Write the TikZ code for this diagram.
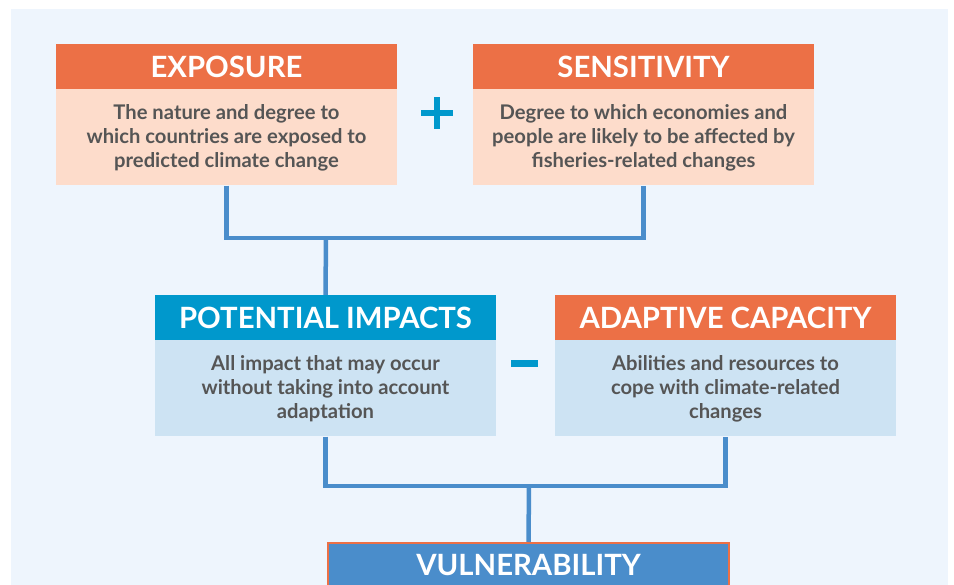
\documentclass[tikz,border=0pt]{standalone}
\usepackage{fontspec}
\setmainfont{Lato}
\usetikzlibrary{calc}
\newcommand\nolig{\kern0pt}
\definecolor{bgblue}{HTML}{EEF5FD}
\definecolor{hdorange}{HTML}{EC7046}
\definecolor{bdpeach}{HTML}{FDDCCB}
\definecolor{hdblue}{HTML}{0098CC}
\definecolor{bdblue}{HTML}{CDE3F3}
\definecolor{lnblue}{HTML}{4A8DCB}
\definecolor{txgray}{HTML}{555555}
\tikzset{
  head/.style={minimum width=341pt,minimum height=45pt,inner sep=0,
    text=white,font=\fontsize{29.3}{31}\selectfont\bfseries},
  body/.style={minimum width=341pt,minimum height=96pt,inner sep=0,
    text=txgray,align=center,font=\fontsize{20.2}{24}\selectfont\bfseries},
  link/.style={draw=lnblue,line width=4.5pt},
  sign/.style={fill=hdblue,draw=none}
}
\begin{document}
\begin{tikzpicture}[x=1pt,y=-1pt]
\clip(0,0)rectangle(954,585);
\useasboundingbox(0,0)rectangle(954,585);
\fill[bgblue](11,9)rectangle(948,590);
%top row
\node[head,fill=hdorange](expohead)at(226.5,66.5){EXPOSURE};
\node[body,fill=bdpeach](expobody)at(226.5,137.5){The nature and degree to\\which countries are exposed to\\predicted climate change};
\node[head,fill=hdorange](senshead)at(643.5,66.5){SENSITIVITY};
\node[body,fill=bdpeach](sensbody)at(643.5,137.5){Degree to which economies and\\people are likely to be affected by\\fisheries-related changes};
%plus
\fill[sign](421,110)rectangle(453,116);
\fill[sign](434,97)rectangle(440,129);
%middle row
\node[head,fill=hdblue](pothead)at(325.5,317.5){POTENTIAL IMPACTS};
\node[body,fill=bdblue](potbody)at(325.5,388.5){All impact that may occur\\without taking into account\\adapta\nolig tion};
\node[head,fill=hdorange](adaphead)at(725.5,317.5){ADAPTIVE CAPACITY};
\node[body,fill=bdblue](adapbody)at(725.5,388.5){Abili\nolig ties and resources to\\cope with climate-related\\changes};
%minus
\fill[sign](511,360)rectangle(538,367);
%bottom
\node[head,fill=lnblue,draw=hdorange,line width=2pt,minimum width=401pt,minimum height=60pt,anchor=north](vulhead)at(528.5,542){};
\node[head](vultext)at(528.5,565){VULNERABILITY};
%connectors
\coordinate(j1)at(326,238);
\coordinate(j2)at(529,486);
\draw[link](expobody.south)|-(j1)-|(sensbody.south);
\draw[link](j1)--(pothead.north);
\draw[link](potbody.south)|-(j2)-|(adapbody.south);
\draw[link](j2)--(vulhead.north);
\end{tikzpicture}
\end{document}
